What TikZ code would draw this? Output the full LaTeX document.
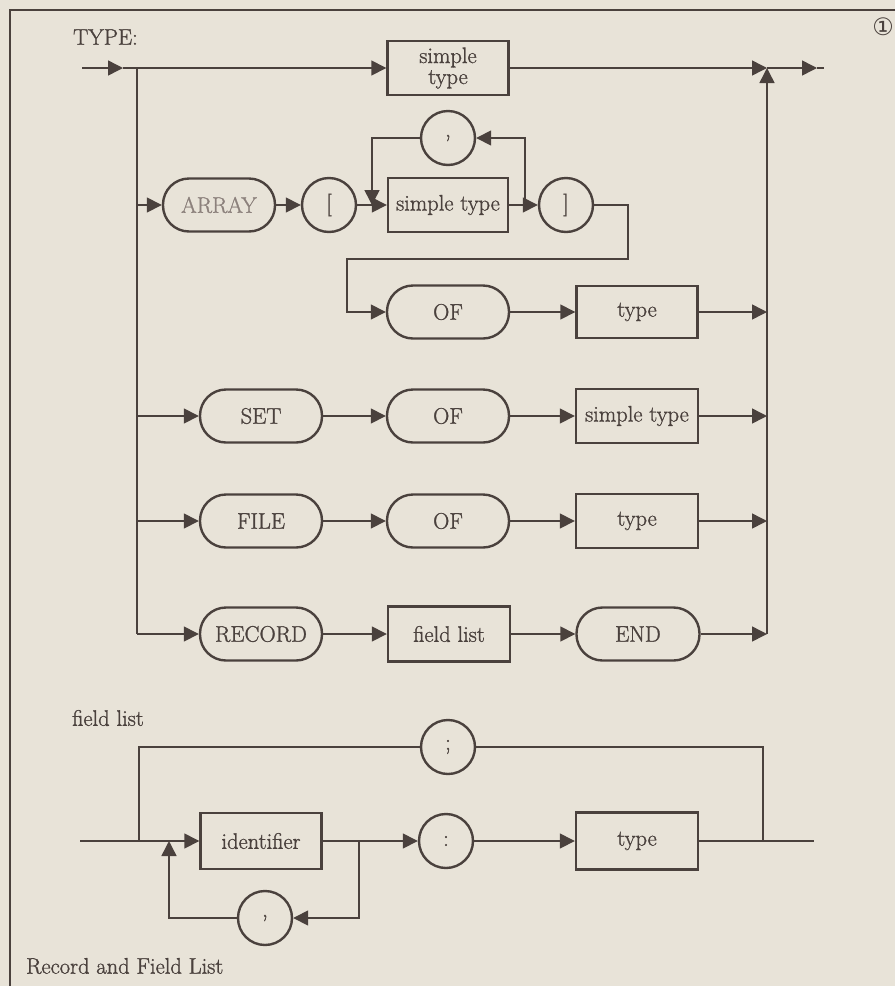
\documentclass[tikz,border=0pt]{standalone}
\usepackage{fontspec}
\newfontfamily\djv{DejaVu Sans}
\newfontfamily\heavy[FakeBold=1.2]{Latin Modern Roman}
\usetikzlibrary{arrows.meta}
\definecolor{ink}{HTML}{4A413D}
\definecolor{paper}{HTML}{E8E3D8}
\definecolor{faded}{HTML}{8C817C}
\begin{document}
\begin{tikzpicture}[x=1pt,y=-1pt,
  ln/.style={draw=ink, line width=1.5pt},
  arw/.style={ln, -{Triangle[length=15pt,width=15pt]}},
  txt/.style={text=ink, font=\heavy\fontsize{22.5}{24}\selectfont, inner sep=0pt},
  tbox/.style={txt, draw=ink, line width=2.4pt, minimum width=121pt, minimum height=54pt, align=center},
  stad/.style={txt, draw=ink, line width=2.4pt, rounded corners=26pt, minimum width=122pt, minimum height=53pt},
  circ/.style={txt, circle, draw=ink, line width=2.4pt, minimum size=54pt},
]
\useasboundingbox (0,0) rectangle (895,986);
\fill[paper] (0,0) rectangle (895,986);
% frame
\draw[ink, line width=1.3pt] (10,986) -- (10,10) -- (895,10);

% labels
\node[txt, anchor=west] (ttl) at (73,37) {TYPE:};
\node[text=ink, inner sep=0pt, font=\djv\fontsize{24}{26}\selectfont] (num) at (883,27) {①};

% coordinates of the TYPE diagram
\coordinate (in) at (82,68);
\coordinate (m1) at (123,68);
\coordinate (br) at (137,68);
\coordinate (lb) at (137,634);
\coordinate (mg) at (767,68);
\coordinate (rb) at (767,634);
\coordinate (ex1) at (817,68);
\coordinate (ex) at (824,68);

% nodes
\node[tbox] (st1) at (448,68) {simple\\[-3pt]type};

\node[stad, minimum width=112pt, text=faded] (nArray) at (219,205) {ARRAY};
\node[circ] (lbr) at (329,205) {[};
\node[tbox, minimum width=120pt] (st2) at (448,205) {simple type};
\node[circ] (rbr) at (566,205) {]};
\node[circ] (cm1) at (448,138) {,};
\coordinate (c1) at (525,205);
\coordinate (c2) at (372,205);
\coordinate (d1) at (628,259);
\coordinate (d2) at (347,259);

\node[stad] (of1) at (448,312) {OF};
\node[tbox, minimum height=52pt] (ty1) at (637,312) {type};

\node[stad] (nSet) at (261,416) {SET};
\node[stad] (of2) at (448,416) {OF};
\node[tbox, minimum width=122pt] (st3) at (637,416) {simple type};

\node[stad] (nFile) at (261,521) {FILE};
\node[stad] (of3) at (448,521) {OF};
\node[tbox, minimum width=122pt] (ty2) at (637,521) {type};

\node[stad] (nRec) at (261,634) {RECORD};
\node[tbox, minimum width=122pt, minimum height=55pt] (fl1) at (449,634) {field list};
\node[stad, minimum width=123pt] (nEnd) at (638,634) {END};

% connectors TYPE
\draw[arw] (in) -- (m1);
\draw[ln] (m1) -- (br);
\draw[ln] (br) -- (lb);
\draw[arw] (br) -- (st1.west);
\draw[arw] (st1.east) -- (mg);
\draw[arw] (rb) -- (mg);
\draw[arw] (mg) -- (ex1);
\draw[ln] (ex1) -- (ex);

\draw[arw] (br |- nArray.west) -- (nArray.west);
\draw[arw] (nArray.east) -- (lbr.west);
\draw[arw] (lbr.east) -- (st2.west);
\draw[arw] (st2.east) -- (rbr.west);
\draw[arw] (c1) |- (cm1.east);
\draw[arw] (cm1.west) -| (c2);
\draw[arw] (rbr.east) -| (d1) -- (d2) |- (of1.west);
\draw[arw] (of1.east) -- (ty1.west);
\draw[arw] (ty1.east) -- (ty1.east -| mg);

\draw[arw] (br |- nSet.west) -- (nSet.west);
\draw[arw] (nSet.east) -- (of2.west);
\draw[arw] (of2.east) -- (st3.west);
\draw[arw] (st3.east) -- (st3.east -| mg);

\draw[arw] (br |- nFile.west) -- (nFile.west);
\draw[arw] (nFile.east) -- (of3.west);
\draw[arw] (of3.east) -- (ty2.west);
\draw[arw] (ty2.east) -- (ty2.east -| mg);

\draw[arw] (lb) -- (nRec.west);
\draw[arw] (nRec.east) -- (fl1.west);
\draw[arw] (fl1.east) -- (nEnd.west);
\draw[arw] (nEnd.east) -- (rb);

% field list diagram
\node[txt, anchor=west] (fllab) at (72,718) {field list};
\node[circ] (semi) at (448,747) {;};
\node[tbox, minimum height=56pt] (ident) at (261,841) {identifier};
\node[circ] (colon) at (446,841) {:};
\node[tbox, minimum width=122pt, minimum height=57pt] (ty3) at (637,841) {type};
\node[circ] (cm2) at (265,918) {,};

\coordinate (fin) at (80,841);
\coordinate (fl) at (139,841);
\coordinate (cl) at (169,841);
\coordinate (cr) at (359,841);
\coordinate (fr) at (763,841);
\coordinate (fout) at (814,841);

\draw[ln] (fin) -- (fl);
\draw[arw] (fl) -- (ident.west);
\draw[ln] (fl) |- (semi.west);
\draw[ln] (semi.east) -| (fr);
\draw[arw] (ident.east) -- (colon.west);
\draw[arw] (colon.east) -- (ty3.west);
\draw[ln] (ty3.east) -- (fout);
\draw[arw] (cr) |- (cm2.east);
\draw[arw] (cm2.west) -| (cl);

\node[txt, anchor=west] (cap) at (26,966) {Record and Field List};
\end{tikzpicture}
\end{document}
